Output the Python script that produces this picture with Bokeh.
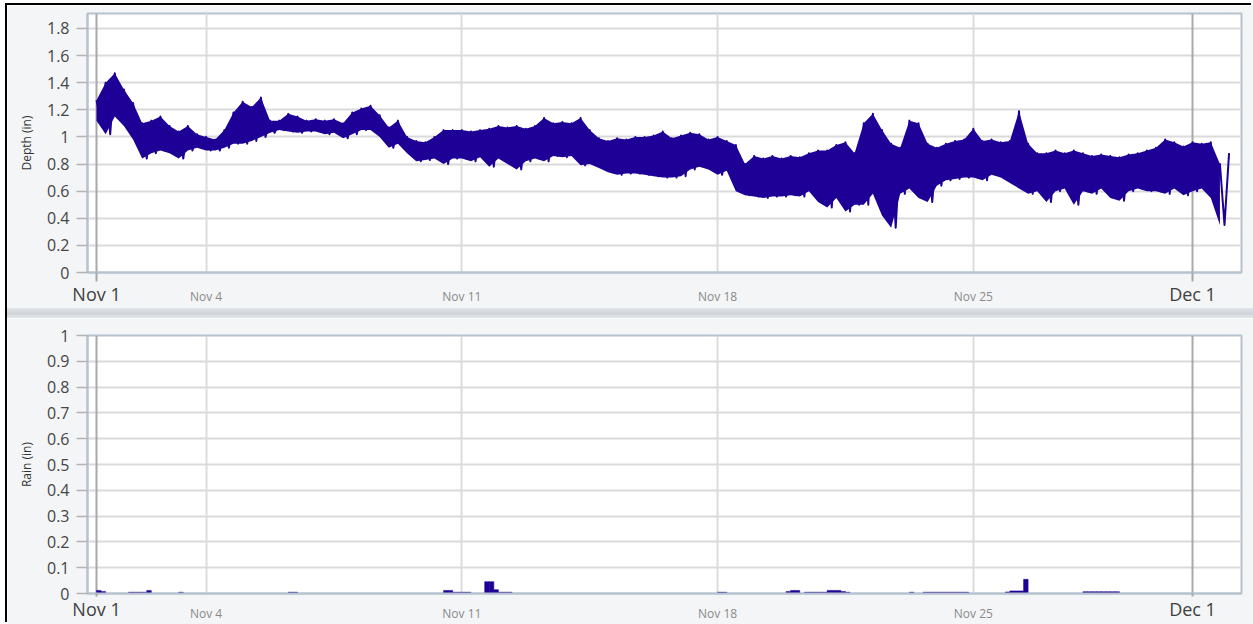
import pandas as pd
from bokeh.plotting import figure
from bokeh.models import (Range1d, FixedTicker, LinearAxis, DatetimeAxis, Grid, Div)
from bokeh.layouts import column
from bokeh.embed import file_html
from bokeh.resources import INLINE

# ---------------- data ----------------
START = "2019-11-01 00:00"          # first depth sample, 6-hourly hi/lo envelope
depth_hi = [
    1.27, 1.40, 1.47, 1.35,  1.25, 1.10, 1.12, 1.15,  1.08, 1.04, 1.08, 1.02,
    1.00, 0.98, 1.05, 1.18,  1.26, 1.22, 1.29, 1.12,  1.12, 1.17, 1.15, 1.12,
    1.13, 1.12, 1.13, 1.10,  1.18, 1.21, 1.23, 1.16,  1.07, 1.12, 1.00, 0.97,
    0.96, 1.00, 1.05, 1.05,  1.05, 1.04, 1.05, 1.06,  1.08, 1.07, 1.08, 1.06,
    1.08, 1.14, 1.10, 1.11,  1.10, 1.14, 1.05, 0.99,  0.97, 0.99, 0.98, 1.00,
    1.00, 1.01, 1.04, 0.99,  1.01, 1.03, 1.02, 0.98,  1.00, 0.97, 0.94, 0.80,
    0.86, 0.84, 0.86, 0.84,  0.86, 0.85, 0.88, 0.90,  0.90, 0.94, 0.96, 0.88,
    1.10, 1.17, 1.05, 0.95,  0.92, 1.12, 1.10, 0.95,  0.92, 0.95, 0.97, 0.98,
    1.06, 0.97, 0.98, 0.96,  0.97, 1.19, 0.95, 0.88,  0.88, 0.90, 0.88, 0.90,
    0.88, 0.86, 0.87, 0.86,  0.85, 0.87, 0.88, 0.90,  0.92, 0.98, 0.96, 0.93,
    0.96, 0.95, 0.96, 0.80,
]
depth_lo = [
    1.12, 1.02, 1.15, 1.08,  0.98, 0.84, 0.88, 0.90,  0.88, 0.84, 0.90, 0.92,
    0.90, 0.90, 0.92, 0.95,  0.95, 0.97, 1.00, 1.03,  1.05, 1.04, 1.03, 1.04,
    1.04, 1.02, 1.03, 0.99,  1.02, 1.05, 1.05, 1.00,  0.92, 0.95, 0.88, 0.82,
    0.83, 0.84, 0.80, 0.84,  0.84, 0.82, 0.85, 0.78,  0.84, 0.80, 0.76, 0.82,
    0.84, 0.82, 0.86, 0.85,  0.86, 0.79, 0.80, 0.77,  0.74, 0.72, 0.73, 0.73,
    0.72, 0.71, 0.70, 0.70,  0.71, 0.76, 0.78, 0.76,  0.72, 0.75, 0.60, 0.57,
    0.56, 0.55, 0.56, 0.56,  0.57, 0.56, 0.60, 0.52,  0.48, 0.55, 0.45, 0.50,
    0.50, 0.58, 0.42, 0.33,  0.58, 0.62, 0.55, 0.52,  0.64, 0.68, 0.69, 0.70,
    0.70, 0.68, 0.72, 0.70,  0.66, 0.62, 0.58, 0.60,  0.52, 0.60, 0.62, 0.50,
    0.60, 0.58, 0.62, 0.55,  0.53, 0.60, 0.62, 0.60,  0.60, 0.58, 0.62, 0.57,
    0.60, 0.62, 0.55, 0.35,
]
depth_end = 0.88

# rain, 3-hour bins (start of bin)
rain_start = [
    "2019-11-01 00:00", "2019-11-01 03:00",
    "2019-11-01 21:00", "2019-11-02 00:00", "2019-11-02 03:00", "2019-11-02 06:00", "2019-11-02 09:00",
    "2019-11-03 06:00",
    "2019-11-06 06:00", "2019-11-06 09:00",
    "2019-11-10 12:00", "2019-11-10 15:00", "2019-11-10 18:00", "2019-11-10 21:00",
    "2019-11-11 00:00", "2019-11-11 03:00",
    "2019-11-11 15:00", "2019-11-11 18:00", "2019-11-11 21:00",
    "2019-11-12 00:00", "2019-11-12 03:00", "2019-11-12 06:00",
    "2019-11-18 00:00", "2019-11-18 03:00",
    "2019-11-19 21:00", "2019-11-20 00:00", "2019-11-20 03:00",
    "2019-11-20 09:00", "2019-11-20 12:00", "2019-11-20 15:00", "2019-11-20 18:00", "2019-11-20 21:00",
    "2019-11-21 00:00", "2019-11-21 03:00", "2019-11-21 06:00", "2019-11-21 09:00", "2019-11-21 12:00",
    "2019-11-23 06:00",
    "2019-11-23 15:00", "2019-11-23 18:00", "2019-11-23 21:00",
    "2019-11-24 00:00", "2019-11-24 03:00", "2019-11-24 06:00", "2019-11-24 09:00",
    "2019-11-24 12:00", "2019-11-24 15:00", "2019-11-24 18:00",
    "2019-11-25 21:00", "2019-11-26 00:00", "2019-11-26 03:00", "2019-11-26 06:00", "2019-11-26 09:00",
    "2019-11-28 00:00", "2019-11-28 03:00", "2019-11-28 06:00", "2019-11-28 09:00",
    "2019-11-28 12:00", "2019-11-28 15:00", "2019-11-28 18:00", "2019-11-28 21:00",
]
rain_in = [
    0.012, 0.008,
    0.005, 0.005, 0.005, 0.005, 0.012,
    0.005,
    0.005, 0.005,
    0.012, 0.012, 0.005, 0.005,
    0.005, 0.005,
    0.046, 0.046, 0.015,
    0.005, 0.005, 0.005,
    0.005, 0.005,
    0.008, 0.012, 0.012,
    0.005, 0.005, 0.005, 0.005, 0.005,
    0.012, 0.012, 0.012, 0.008, 0.005,
    0.005,
    0.005, 0.005, 0.005,
    0.005, 0.005, 0.005, 0.005,
    0.005, 0.005, 0.005,
    0.006, 0.010, 0.010, 0.010, 0.055,
    0.007, 0.007, 0.007, 0.007,
    0.007, 0.007, 0.007, 0.007,
]

month_ticks = ["2019-11-01", "2019-12-01"]
month_labels = ["Nov 1", "Dec 1"]
week_ticks = ["2019-11-04", "2019-11-11", "2019-11-18", "2019-11-25"]
week_labels = ["Nov 4", "Nov 11", "Nov 18", "Nov 25"]
depth_ticks = [0, 0.2, 0.4, 0.6, 0.8, 1, 1.2, 1.4, 1.6, 1.8]
depth_tick_labels = ["0", "0.2", "0.4", "0.6", "0.8", "1", "1.2", "1.4", "1.6", "1.8"]
rain_ticks = [0, 0.1, 0.2, 0.3, 0.4, 0.5, 0.6, 0.7, 0.8, 0.9, 1]
rain_tick_labels = ["0", "0.1", "0.2", "0.3", "0.4", "0.5", "0.6", "0.7", "0.8", "0.9", "1"]
X_START, X_END = "2019-10-31 18:05", "2019-12-02 08:10"

# ---------------- helpers ----------------
def ms(s):
    return int(pd.Timestamp(s).value // 1_000_000)

HOUR = 3600 * 1000
LINE_C = "#1e0096"
FONT = "Open Sans"
BORDER_BG = "#f3f5f7"
FRAME_C = "#b6c2cd"

t0 = ms(START)
t6 = [t0 + i * 6 * HOUR for i in range(len(depth_hi))]
line_x, line_y = [], []
for t, h, l in zip(t6, depth_hi, depth_lo):
    line_x += [t, t + 3 * HOUR]
    line_y += [h, l]
line_x.append(t0 + len(depth_hi) * 6 * HOUR)
line_y.append(depth_end)

month_ms = [ms(s) for s in month_ticks]
week_ms = [ms(s) for s in week_ticks]
x_range = Range1d(ms(X_START), ms(X_END))


def make_fig(height, top, bottom, y_end, yticks, ylabels, ylabel, tick_out, week_standoff):
    p = figure(width=1246, height=height, x_range=x_range, y_range=Range1d(0, y_end),
               x_axis_type=None, y_axis_type=None, toolbar_location=None,
               output_backend="svg", min_border_left=80, min_border_right=12,
               min_border_top=top, min_border_bottom=bottom)
    p.background_fill_color = "white"
    p.border_fill_color = BORDER_BG
    p.outline_line_color = FRAME_C
    p.outline_line_width = 2

    ya = LinearAxis(ticker=FixedTicker(ticks=yticks),
                    major_label_overrides=dict(zip(yticks, ylabels)),
                    axis_label=ylabel)
    ya.major_label_text_font = FONT
    ya.major_label_text_font_size = "16px"
    ya.major_label_text_color = "#454545"
    ya.major_tick_out = 11
    ya.major_tick_in = 0
    ya.major_tick_line_color = "#b3b3b3"
    ya.major_tick_line_width = 1.5
    ya.minor_tick_line_color = None
    ya.axis_line_color = FRAME_C
    ya.axis_line_width = 2
    ya.major_label_standoff = 7
    ya.axis_label_text_font = FONT
    ya.axis_label_text_font_size = "12px"
    ya.axis_label_text_font_style = "normal"
    ya.axis_label_text_color = "#333333"
    ya.axis_label_standoff = 9
    p.add_layout(ya, "left")

    # month-start axis (large labels) next to the frame
    xa = DatetimeAxis(ticker=FixedTicker(ticks=month_ms),
                      major_label_overrides=dict(zip(month_ms, month_labels)))
    xa.major_label_text_font = FONT
    xa.major_label_text_font_size = "18px"
    xa.major_label_text_color = "#404040"
    xa.major_tick_out = tick_out
    xa.major_tick_in = 0
    xa.major_tick_line_color = "#a6a6a6"
    xa.major_tick_line_width = 2
    xa.minor_tick_line_color = None
    xa.axis_line_color = FRAME_C
    xa.axis_line_width = 2
    xa.major_label_standoff = 0
    p.add_layout(xa, "below")

    # weekly axis (small labels), pulled up onto the same row
    wa = DatetimeAxis(ticker=FixedTicker(ticks=week_ms),
                      major_label_overrides=dict(zip(week_ms, week_labels)))
    wa.major_label_text_font = FONT
    wa.major_label_text_font_size = "12px"
    wa.major_label_text_color = "#8a8a8a"
    wa.major_tick_out = 0
    wa.major_tick_in = 0
    wa.major_tick_line_color = None
    wa.minor_tick_line_color = None
    wa.axis_line_color = None
    wa.major_label_standoff = week_standoff
    p.add_layout(wa, "below")

    p.add_layout(Grid(dimension=1, ticker=FixedTicker(ticks=yticks),
                      grid_line_color="#dadada", grid_line_width=2))
    p.add_layout(Grid(dimension=0, ticker=FixedTicker(ticks=week_ms),
                      grid_line_color="#dcdcdc", grid_line_width=2))
    p.add_layout(Grid(dimension=0, ticker=FixedTicker(ticks=month_ms),
                      grid_line_color="#a8a8a8", grid_line_width=2))
    return p


p1 = make_fig(303, 8, 36, 1.91, depth_ticks, depth_tick_labels, "Depth (in)", 9, -21)
p1.varea(x=t6, y1=depth_lo, y2=depth_hi, fill_color=LINE_C)
p1.line(line_x, line_y, line_color=LINE_C, line_width=2, line_join="round")

p2 = make_fig(306, 17, 30, 1.0, rain_ticks, rain_tick_labels, "Rain (in)", 3, -19)
p2.vbar(x=[ms(s) + 1.5 * HOUR for s in rain_start], width=3 * HOUR, top=rain_in, bottom=0,
        fill_color=LINE_C, line_color=LINE_C, line_width=0.5)

divider = Div(width=1246, height=10, margin=0,
              styles={"background": "linear-gradient(to bottom, #e2e5e8, #d0d4d8 55%, #e4e7ea)"})

layout = column(p1, divider, p2, spacing=0, margin=(5, 0, 0, 7),
                styles={"box-shadow": "-2px -2px 0 0 #000000"})

open("out.html", "w").write(file_html(layout, INLINE))
